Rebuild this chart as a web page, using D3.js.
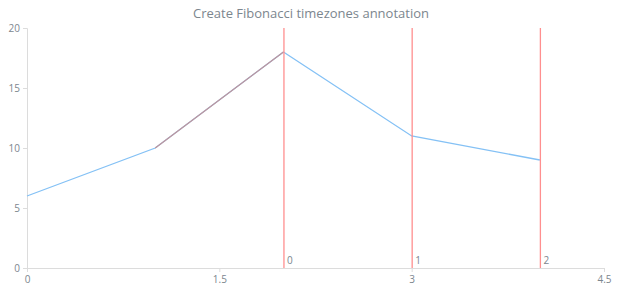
<!DOCTYPE html>
<html>
<head>
<meta charset="utf-8">
<script src="https://cdn.jsdelivr.net/npm/d3@7"></script>
<style>
  body { margin: 0; background: #fff; }
  text { font-family: "Open Sans", "Liberation Sans", sans-serif; }
</style>
</head>
<body>
<svg id="chart"></svg>
<script>
var w = 620;
var h = 300;

// series values
var xValues = [0, 1, 2, 3, 4];
var yValues = [6, 10, 18, 11, 9];

// ticks
var xTicks = [0, 1.5, 3, 4.5];
var yTicks = [0, 5, 10, 15, 20];

// annotation: trend anchors + fibonacci timezone levels
var trendX = [1, 2];
var fibStart = 2;
var fibUnit = 1;
var fibLevels = [0, 1, 2];

var margin = { top: 28, right: 16, bottom: 32, left: 27 };

var svg = d3.select("#chart")
  .attr("width", w)
  .attr("height", h);

svg.append("text")
  .attr("x", w / 2 + 1)
  .attr("y", 18)
  .attr("text-anchor", "middle")
  .attr("font-size", 13)
  .attr("fill", "#7c868e")
  .text("Create Fibonacci timezones annotation");

var x = d3.scaleLinear()
  .domain([0, 4.5])
  .range([margin.left, w - margin.right]);

var y = d3.scaleLinear()
  .domain([0, 20])
  .range([h - margin.bottom, margin.top]);

// y axis
var yAxis = svg.append("g")
  .attr("transform", "translate(" + margin.left + ",0)")
  .call(d3.axisLeft(y).tickValues(yTicks).tickSize(4).tickPadding(3));

// x axis
var xAxis = svg.append("g")
  .attr("transform", "translate(0," + (h - margin.bottom) + ")")
  .call(d3.axisBottom(x).tickValues(xTicks).tickSize(4).tickPadding(4)
    .tickFormat(d3.format("")));

[yAxis, xAxis].forEach(function (a) {
  a.select(".domain").attr("stroke", "#dcdcdc");
  a.selectAll(".tick line").attr("stroke", "#dcdcdc");
  a.selectAll(".tick text")
    .attr("fill", "#7c868e")
    .attr("font-size", 10)
    .style("font-family", "'Open Sans', 'Liberation Sans', sans-serif");
});

var pts = xValues.map(function (d, i) { return [d, yValues[i]]; });

var line = d3.line()
  .x(function (d) { return x(d[0]); })
  .y(function (d) { return y(d[1]); });

svg.append("path")
  .datum(pts)
  .attr("d", line)
  .attr("fill", "none")
  .attr("stroke", "#84c1f5")
  .attr("stroke-width", 1.3);

// trend segment of annotation
var trendPts = pts.filter(function (d) { return d[0] >= trendX[0] && d[0] <= trendX[1]; });
svg.append("path")
  .datum(trendPts)
  .attr("d", line)
  .attr("fill", "none")
  .attr("stroke", "#bf959c")
  .attr("stroke-width", 1.3);

// fibonacci timezones
var zones = svg.selectAll(".zone")
  .data(fibLevels)
  .enter().append("g")
  .attr("class", "zone");

zones.append("line")
  .attr("x1", function (d) { return x(fibStart + d * fibUnit) + 0.5; })
  .attr("x2", function (d) { return x(fibStart + d * fibUnit) + 0.5; })
  .attr("y1", y(20))
  .attr("y2", y(0))
  .attr("stroke", "#ff8f8f")
  .attr("stroke-width", 1.3);

zones.append("text")
  .attr("x", function (d) { return x(fibStart + d * fibUnit) + 3.5; })
  .attr("y", y(0) - 4)
  .attr("font-size", 10)
  .attr("fill", "#7c868e")
  .text(function (d) { return d; });
</script>
</body>
</html>
